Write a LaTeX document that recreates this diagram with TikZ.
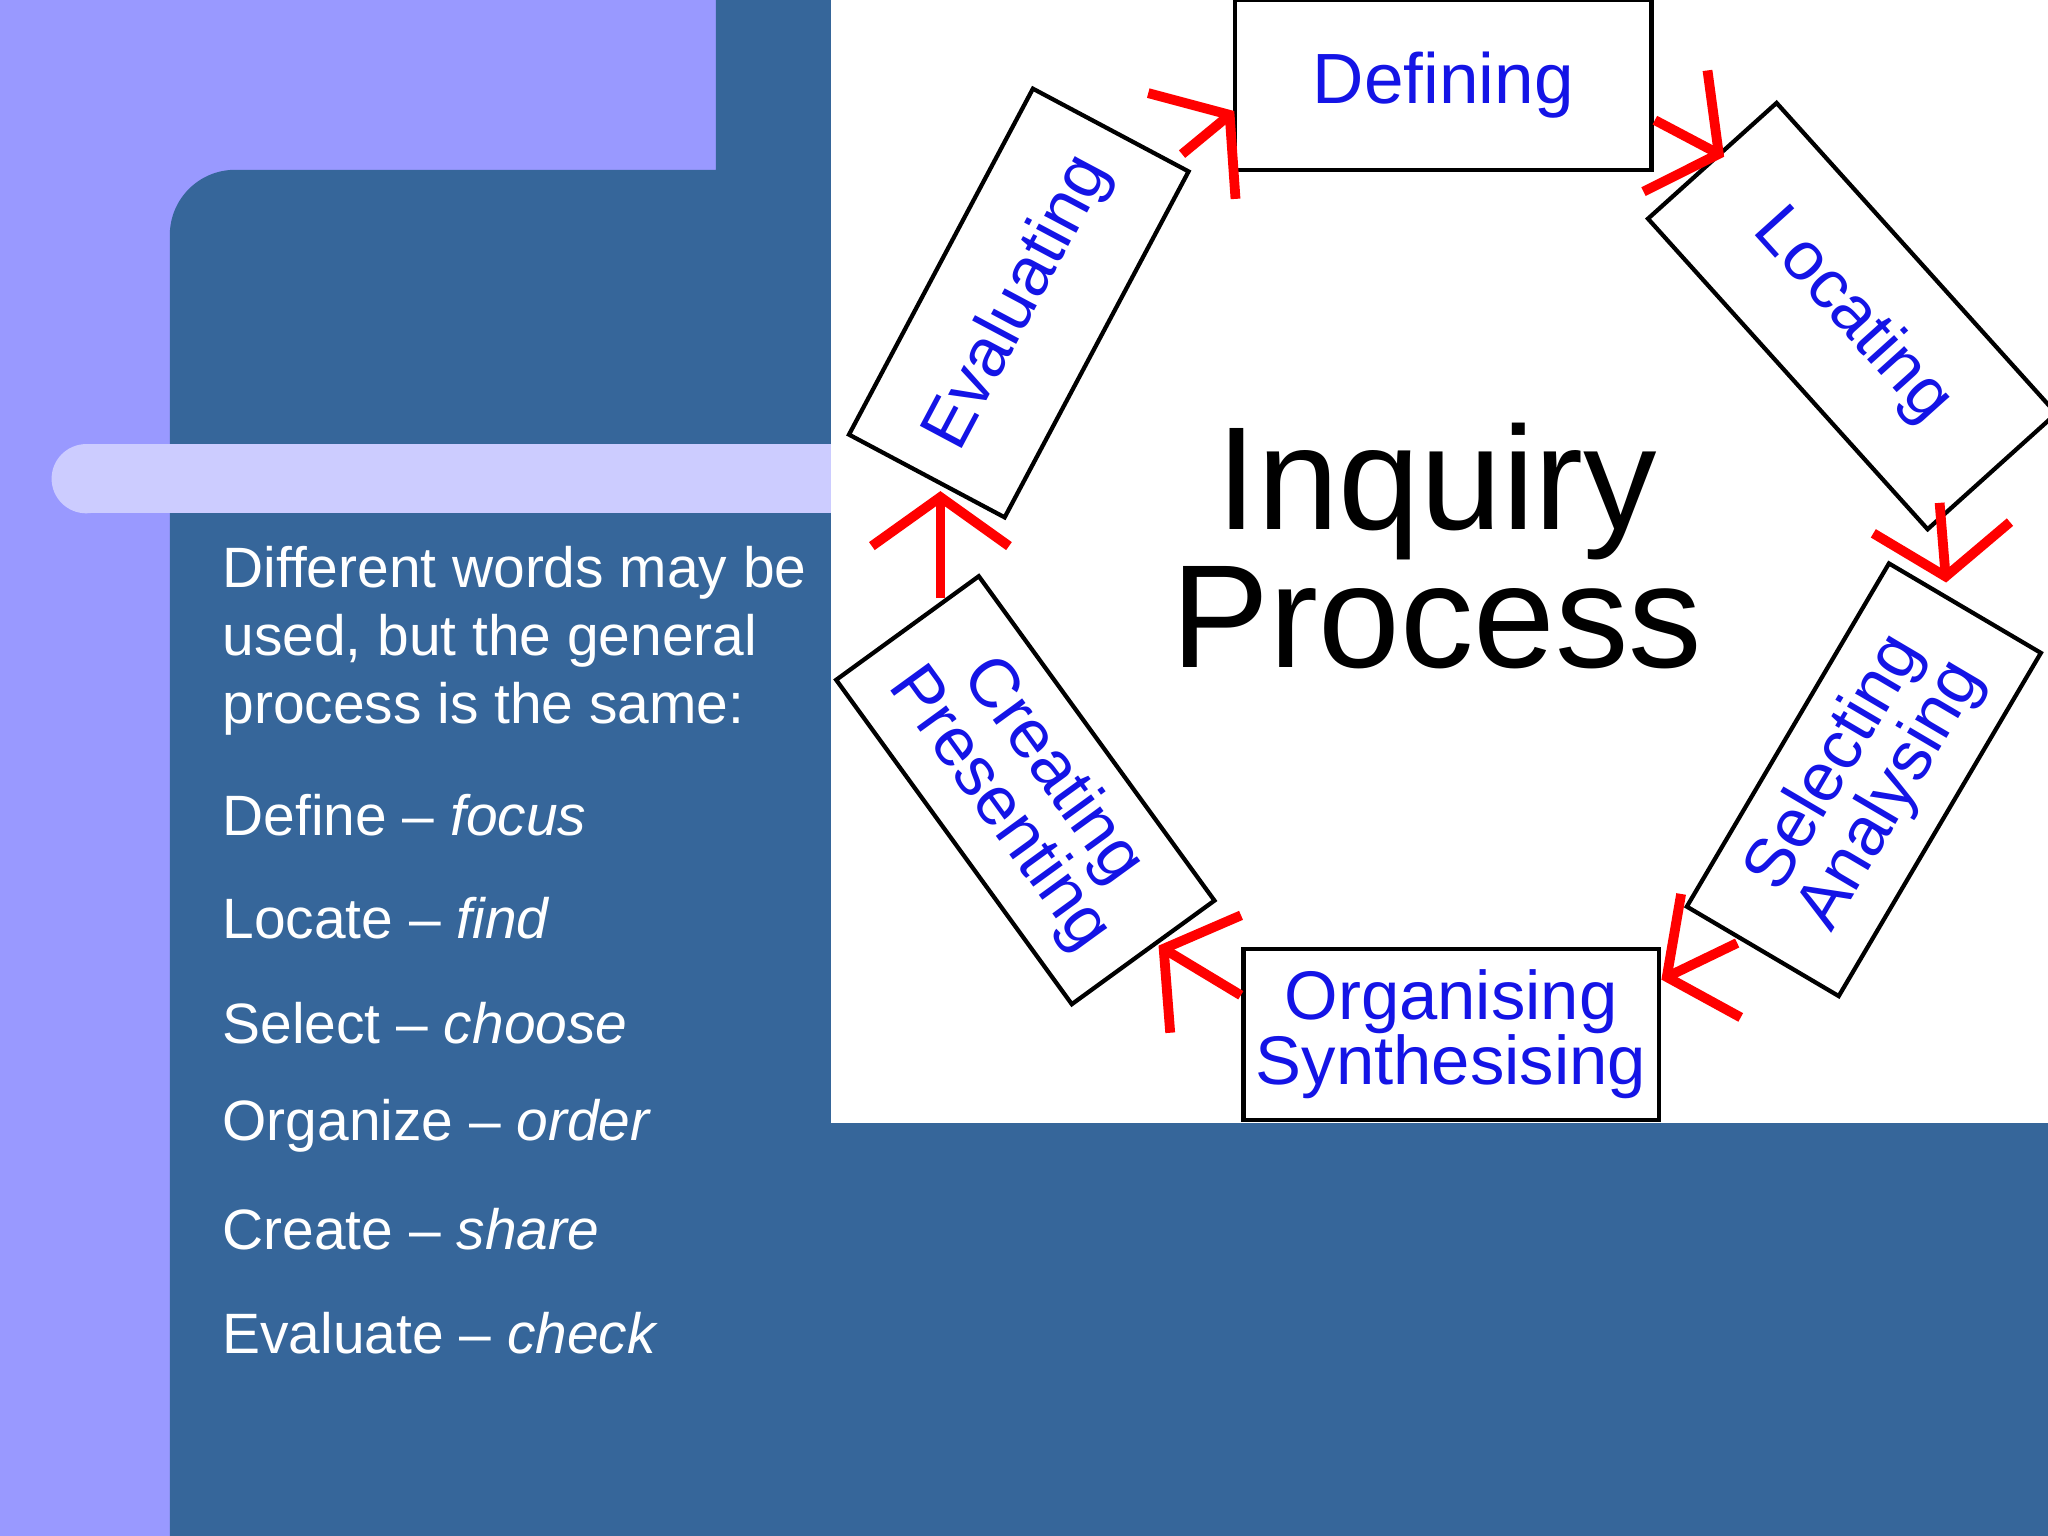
\documentclass[tikz,border=0pt]{standalone}
\usepackage{fontspec}
\setmainfont{Liberation Sans}
\usetikzlibrary{arrows.meta}
\definecolor{lpurple}{HTML}{9999FF}
\definecolor{dblue}{HTML}{36669A}
\definecolor{lav}{HTML}{CCCCFF}
\definecolor{tblue}{HTML}{1414E6}
\begin{document}
\begin{tikzpicture}[x=0.02cm,y=-0.02cm,
  stage/.style={draw=black,line width=0.065cm,fill=white,text=tblue,align=center,inner sep=0pt,
    font=\fontsize{30}{28.5}\selectfont},
  redarrow/.style={draw=red,line width=0.15cm,-{Straight Barb[length=0.75cm,width=2.1cm,line width=0.15cm]}},
  body/.style={text=white,anchor=west,inner sep=0pt,font=\fontsize{24.8}{29.6}\selectfont}]
\useasboundingbox (0,0) rectangle (1568,1176);
\fill[lpurple] (0,0) rectangle (1568,1176);
\fill[dblue] (548,0) -- (1568,0) -- (1568,1176) -- (130,1176) -- (130,180) arc[start angle=180,end angle=270,radius=50] -- (548,130) -- cycle;
\fill[lav] (66,340) rectangle (636,393);
\fill[lav] (66,366.5) circle[radius=26.5];
\fill[white] (636,0) rectangle (1568,860);
% text
\node[body,align=left,anchor=north west] (intro) at (170,418) {Different words may be\\used, but the general\\process is the same:};
\node[body] (t1) at (170,624) {Define -- \textit{focus}};
\node[body] (t2) at (170,703) {Locate -- \textit{find}};
\node[body] (t3) at (170,783) {Select -- \textit{choose}};
\node[body] (t4) at (170,862) {Organize -- \textit{order}};
\node[body] (t5) at (170,941) {Create -- \textit{share}};
\node[body] (t6) at (170,1021) {Evaluate -- \textit{check}};
% diagram
\node[font=\fontsize{64}{60}\selectfont,align=center] (center) at (1100,418) {Inquiry\\Process};
\node[stage,minimum width=6.38cm,minimum height=2.6cm] (def) at (1105,65) {\fontsize{31}{30}\selectfont Defining};
\node[stage,minimum width=6.4cm,minimum height=2.65cm,rotate=-48] (loc) at (1418,242) {Locating};
\node[stage,minimum width=6.1cm,minimum height=2.7cm,rotate=59.5] (sel) at (1427,597) {Selecting\\Analysing};
\node[stage,minimum width=6.36cm,minimum height=2.62cm] (org) at (1111,792) {Organising\\Synthesising};
\node[stage,minimum width=6.14cm,minimum height=2.7cm,rotate=-54] (cre) at (785,605) {Creating\\Presenting};
\node[stage,minimum width=6.0cm,minimum height=2.7cm,rotate=62] (eva) at (780,232) {Evaluating};
% arrows
\coordinate (a1s) at (905,118); \coordinate (a1e) at (945,85);
\coordinate (a2s) at (1267,92); \coordinate (a2e) at (1320,120);
\coordinate (a3s) at (1485,385); \coordinate (a3e) at (1490,446);
\coordinate (a4s) at (1330,722); \coordinate (a4e) at (1272,750);
\coordinate (a5s) at (950,762); \coordinate (a5e) at (887,724);
\coordinate (a6s) at (720,458); \coordinate (a6e) at (720,376);
\draw[redarrow] (a1s) -- (a1e);
\draw[redarrow] (a2s) -- (a2e);
\draw[redarrow] (a3s) -- (a3e);
\draw[redarrow] (a4s) -- (a4e);
\draw[redarrow] (a5s) -- (a5e);
\draw[redarrow] (a6s) -- (a6e);
\end{tikzpicture}
\end{document}
